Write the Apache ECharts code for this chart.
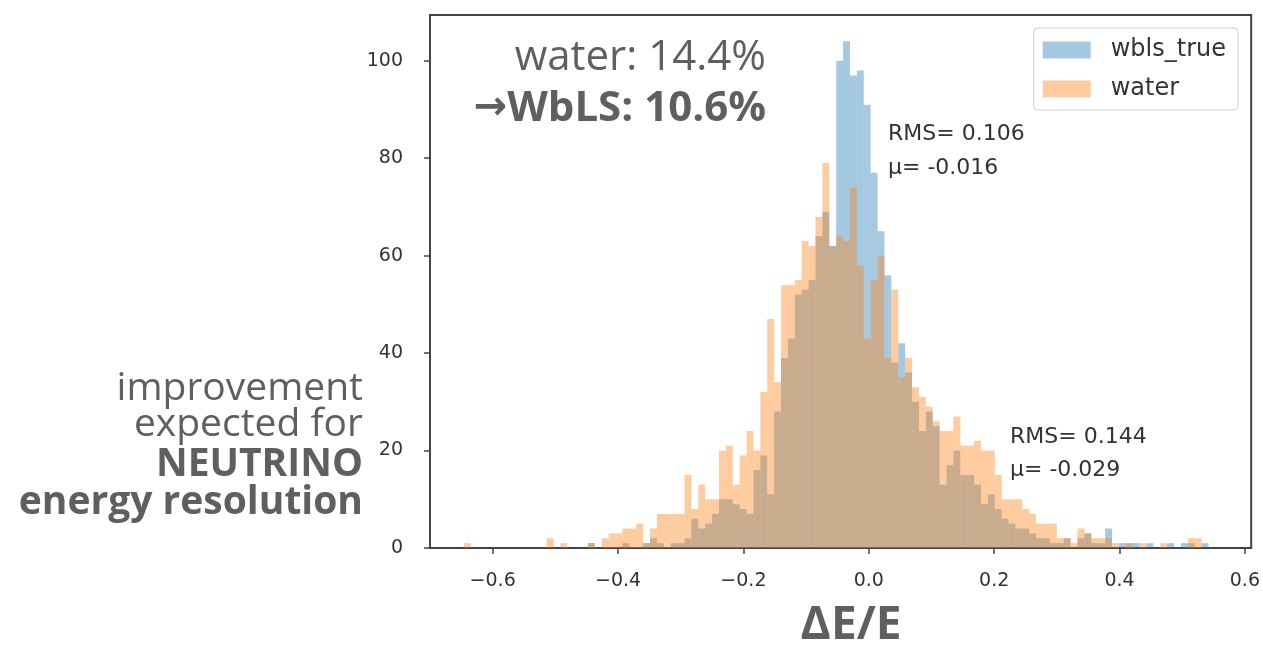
<!DOCTYPE html>
<html>
<head>
<meta charset="utf-8">
<script src="https://cdn.jsdelivr.net/npm/echarts@6/dist/echarts.min.js"></script>
<style>
  html, body { margin: 0; padding: 0; background: #fff; }
  #chart { width: 1263px; height: 645px; }
</style>
</head>
<body>
<div id="chart"></div>
<script>
// Histogram binning of ΔE/E (shared by both samples)
const BIN_START = -0.657;
const BIN_WIDTH = 0.011;

// Counts per bin, water-based detector
const waterCounts = [
  0, 1, 0, 0, 0, 0, 0, 0, 0, 0,
  0, 0, 0, 2, 0, 1, 0, 0, 0, 1,
  0, 2, 3, 3, 4, 4, 5, 1, 4, 7,
  7, 7, 7, 15, 8, 13, 10, 10, 20, 21,
  13, 19, 24, 20, 32, 47, 34, 54, 54, 55,
  63, 62, 68, 79, 62, 64, 63, 74, 58, 43,
  55, 60, 39, 53, 35, 39, 33, 31, 29, 26,
  24, 24, 27, 21, 21, 22, 20, 20, 15, 10,
  10, 10, 8, 7, 5, 5, 5, 2, 2, 1,
  4, 3, 2, 2, 2, 1, 0, 1, 0, 1,
  0, 0, 1, 0, 0, 0, 2, 2, 0, 0,
  0
];

// Counts per bin, WbLS (true)
const wblsCounts = [
  0, 0, 0, 0, 0, 0, 0, 0, 0, 0,
  0, 0, 0, 0, 0, 0, 0, 0, 0, 1,
  0, 0, 0, 0, 1, 0, 0, 1, 2, 1,
  0, 1, 1, 2, 6, 4, 5, 7, 10, 10,
  9, 8, 7, 16, 19, 11, 28, 39, 43, 52,
  53, 55, 64, 69, 62, 100, 104, 97, 98, 91,
  77, 65, 56, 38, 42, 36, 30, 24, 28, 25,
  13, 17, 20, 15, 15, 13, 9, 11, 8, 6,
  5, 4, 4, 3, 2, 2, 1, 1, 2, 0,
  2, 3, 1, 1, 4, 0, 1, 1, 1, 0,
  1, 0, 0, 1, 0, 1, 1, 0, 1, 0,
  0
];

const xTicks = [-0.6, -0.4, -0.2, 0.0, 0.2, 0.4, 0.6];
const yTicks = [0, 20, 40, 60, 80, 100];

const seriesNames = ['wbls_true', 'water'];
const statLines = {
  wbls_true: ['RMS= 0.106', 'μ= -0.016'],
  water: ['RMS= 0.144', 'μ= -0.029']
};

function toBins(counts) {
  return counts.map((c, i) => [BIN_START + i * BIN_WIDTH, BIN_START + (i + 1) * BIN_WIDTH, c]);
}

function renderBar(params, api) {
  const topLeft = api.coord([api.value(0), api.value(2)]);
  const bottomRight = api.coord([api.value(1), 0]);
  return {
    type: 'rect',
    shape: {
      x: topLeft[0],
      y: topLeft[1],
      width: bottomRight[0] - topLeft[0],
      height: bottomRight[1] - topLeft[1]
    },
    style: api.style()
  };
}

const fmtTick = v => (v < 0 ? '\u2212' : '') + Math.abs(v).toFixed(1);

const chart = echarts.init(document.getElementById('chart'), null, { renderer: 'canvas' });

const tickFont = { fontFamily: 'DejaVu Sans', fontSize: 19, color: '#333' };
const statFont = '22px "DejaVu Sans"';

chart.setOption({
  animation: false,
  backgroundColor: '#fff',
  grid: {
    left: 430, right: 11, top: 15, bottom: 97,
    show: true, borderColor: '#444', borderWidth: 2, backgroundColor: 'transparent'
  },
  xAxis: {
    type: 'value',
    min: -0.7,
    max: 0.61,
    splitLine: { show: false },
    axisLine: { show: true, onZero: false, lineStyle: { color: '#444', width: 2 } },
    axisTick: { show: true, length: 6, customValues: xTicks, lineStyle: { color: '#444', width: 1.5 } },
    axisLabel: { customValues: xTicks, formatter: fmtTick, margin: 24, ...tickFont }
  },
  yAxis: {
    type: 'value',
    min: 0,
    max: 109.4,
    splitLine: { show: false },
    axisLine: { show: true, onZero: false, lineStyle: { color: '#444', width: 2 } },
    axisTick: { show: true, length: 6, customValues: yTicks, lineStyle: { color: '#444', width: 1.5 } },
    axisLabel: { customValues: yTicks, margin: 27, ...tickFont }
  },
  legend: {
    orient: 'vertical',
    right: 25,
    top: 28,
    data: seriesNames,
    icon: 'rect',
    itemWidth: 48,
    itemHeight: 17,
    itemGap: 15,
    padding: [10, 12, 9, 9],
    borderColor: '#d0d0d0',
    borderWidth: 1,
    borderRadius: 4,
    backgroundColor: '#fff',
    textStyle: { fontFamily: 'DejaVu Sans', fontSize: 24, color: '#333', padding: [0, 0, 0, 15] }
  },
  series: [
    {
      name: 'wbls_true',
      type: 'custom',
      renderItem: renderBar,
      itemStyle: { color: 'rgba(31,119,180,0.4)' },
      encode: { x: [0, 1], y: 2 },
      data: toBins(wblsCounts),
      z: 2
    },
    {
      name: 'water',
      type: 'custom',
      renderItem: renderBar,
      itemStyle: { color: 'rgba(255,127,14,0.4)' },
      encode: { x: [0, 1], y: 2 },
      data: toBins(waterCounts),
      z: 3
    }
  ],
  graphic: [
    // resolution summary
    { type: 'text', x: 766, y: 58, style: { text: 'water: 14.4%', align: 'right', verticalAlign: 'middle',
      font: '42px "Open Sans"', fill: '#5f5f5f' } },
    { type: 'text', x: 766, y: 109, style: {
      text: '{a|\u2192}{b|WbLS: 10.6%}', align: 'right', verticalAlign: 'middle',
      rich: {
        a: { font: 'bold 40px "DejaVu Sans"', fill: '#5f5f5f' },
        b: { font: 'bold 42px "Open Sans"', fill: '#5f5f5f' }
      } } },
    // side note
    { type: 'text', x: 363, y: 389, style: { text: 'improvement', align: 'right', verticalAlign: 'middle',
      font: '39px "Open Sans"', fill: '#5f5f5f' } },
    { type: 'text', x: 363, y: 425, style: { text: 'expected for', align: 'right', verticalAlign: 'middle',
      font: '39px "Open Sans"', fill: '#5f5f5f' } },
    { type: 'text', x: 363, y: 465, style: { text: 'NEUTRINO', align: 'right', verticalAlign: 'middle',
      font: 'bold 39px "Open Sans"', fill: '#5f5f5f' } },
    { type: 'text', x: 363, y: 503, style: { text: 'energy resolution', align: 'right', verticalAlign: 'middle',
      font: 'bold 39px "Open Sans"', fill: '#5f5f5f' } },
    // axis title
    { type: 'text', x: 851, y: 626, style: { text: '\u0394E/E', align: 'center', verticalAlign: 'middle',
      font: 'bold 46px "Open Sans"', fill: '#5f5f5f' } },
    // fit statistics
    { type: 'text', x: 888, y: 134, z: 10, style: { text: statLines.wbls_true[0], verticalAlign: 'middle',
      font: statFont, fill: '#333' } },
    { type: 'text', x: 888, y: 168, z: 10, style: { text: statLines.wbls_true[1], verticalAlign: 'middle',
      font: statFont, fill: '#333' } },
    { type: 'text', x: 1010, y: 437, z: 10, style: { text: statLines.water[0], verticalAlign: 'middle',
      font: statFont, fill: '#333' } },
    { type: 'text', x: 1010, y: 470, z: 10, style: { text: statLines.water[1], verticalAlign: 'middle',
      font: statFont, fill: '#333' } }
  ]
});
</script>
</body>
</html>
